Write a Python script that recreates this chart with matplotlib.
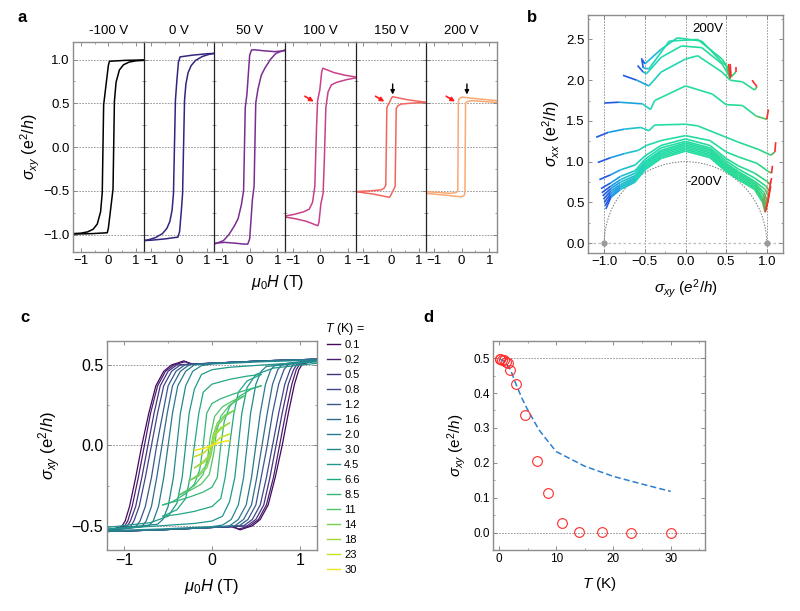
import numpy as np
import matplotlib
matplotlib.use("Agg")
import matplotlib.pyplot as plt
from matplotlib.collections import LineCollection
from matplotlib.colors import LinearSegmentedColormap
from matplotlib.lines import Line2D
from matplotlib.patches import Arc
from matplotlib.ticker import MultipleLocator

plt.rcParams["font.family"] = ["Liberation Sans", "DejaVu Sans"]
plt.rcParams["mathtext.fontset"] = "custom"
plt.rcParams["mathtext.rm"] = "Liberation Sans"
plt.rcParams["mathtext.it"] = "Liberation Sans:italic"
plt.rcParams["mathtext.bf"] = "Liberation Sans:bold"

# ---- panel a: gate-dependent loops (up-sweep branch; down-sweep is the mirror) ----
GATE_LABELS = ["-100 V", "0 V", "50 V", "100 V", "150 V", "200 V"]
GATE_H_UP = [
    [-1.28, -0.6, -0.04, 0.0, 0.08, 0.17, 0.22, 0.28, 0.40, 0.55, 0.75, 1.0, 1.28],
    [-1.28, -1.0, -0.5, -0.04, 0.02, 0.08, 0.13, 0.20, 0.25, 0.33, 0.44, 0.6, 0.85, 1.1, 1.28],
    [-1.28, -0.9, -0.5, -0.2, -0.07, 0.0, 0.10, 0.16, 0.22, 0.30, 0.42, 0.55, 0.75, 0.95, 1.28],
    [-1.28, -0.9, -0.5, -0.09, -0.05, 0.02, 0.10, 0.14, 0.20, 0.28, 0.40, 0.60, 0.95, 1.28],
    [-1.28, -0.6, -0.06, -0.02, 0.15, 0.17, 0.19, 0.25, 0.35, 0.70, 1.28],
    [-1.28, -0.6, -0.01, 0.10, 0.12, 0.13, 0.14, 0.20, 0.40, 0.80, 1.28],
]
GATE_S_UP = [
    [-0.995, -0.99, -0.98, -0.93, -0.72, -0.48, 0.52, 0.74, 0.88, 0.94, 0.97, 0.985, 0.99],
    [-1.07, -1.065, -1.05, -1.03, -0.97, -0.75, -0.53, 0.53, 0.72, 0.85, 0.93, 0.99, 1.035, 1.06, 1.07],
    [-1.10, -1.09, -1.10, -1.11, -1.11, -1.05, -0.60, -0.45, 0.50, 0.66, 0.82, 0.90, 1.00, 1.07, 1.11],
    [-0.80, -0.82, -0.85, -0.90, -0.86, -0.65, -0.53, -0.20, 0.45, 0.63, 0.71, 0.74, 0.77, 0.79],
    [-0.51, -0.54, -0.575, -0.56, -0.45, 0.0, 0.44, 0.47, 0.49, 0.50, 0.51],
    [-0.53, -0.55, -0.57, -0.55, -0.50, 0.0, 0.50, 0.52, 0.53, 0.52, 0.51],
]
GATE_COLORS = ["#000000", "#35237d", "#7a2e92", "#c8408a", "#f2655f", "#f9a972"]

# ---- panel b: sigma_xx vs sigma_xy, one trace per gate voltage ----
B_X = [
    [-0.98, -0.92, -0.80, -0.62, -0.50, -0.30, 0.00, 0.30, 0.50, 0.65, 0.85, 0.95, 0.98, 1.00],
    [-0.99, -0.92, -0.80, -0.62, -0.50, -0.30, 0.00, 0.30, 0.50, 0.65, 0.85, 0.95, 0.985, 1.01],
    [-1.00, -0.92, -0.80, -0.62, -0.50, -0.30, 0.00, 0.30, 0.50, 0.65, 0.85, 0.95, 0.99, 1.02],
    [-1.01, -0.92, -0.80, -0.62, -0.50, -0.30, 0.00, 0.30, 0.50, 0.65, 0.85, 0.96, 1.00, 1.03],
    [-1.02, -0.92, -0.80, -0.62, -0.50, -0.30, 0.00, 0.30, 0.50, 0.65, 0.85, 0.97, 1.01, 1.04],
    [-1.03, -0.92, -0.80, -0.62, -0.50, -0.30, 0.00, 0.30, 0.50, 0.65, 0.85, 0.98, 1.02, 1.05],
    [-1.04, -0.92, -0.80, -0.62, -0.50, -0.30, 0.00, 0.30, 0.50, 0.65, 0.85, 0.99, 1.03, 1.05],
    [-1.06, -0.92, -0.80, -0.62, -0.50, -0.30, 0.00, 0.30, 0.50, 0.65, 0.85, 1.00, 1.04, 1.06],
    [-1.08, -0.92, -0.75, -0.58, -0.48, -0.30, 0.00, 0.30, 0.50, 0.65, 0.88, 1.02, 1.06, 1.07],
    [-1.10, -0.95, -0.75, -0.55, -0.45, -0.38, 0.00, 0.15, 0.50, 0.65, 0.90, 1.05, 1.10, 1.11],
    [-1.00, -0.82, -0.53, -0.43, -0.38, 0.00, 0.33, 0.50, 0.70, 0.87, 1.00, 1.02],
    [-0.77, -0.60, -0.45, -0.30, 0.00, 0.15, 0.45, 0.55, 0.70, 0.85, 0.88, 0.82],
    [-0.59, -0.52, -0.48, -0.30, -0.05, 0.20, 0.45, 0.55, 0.62, 0.62],
    [-0.54, -0.52, -0.45, -0.20, 0.15, 0.45, 0.53, 0.56, 0.55],
    [-0.53, -0.50, -0.30, -0.10, 0.20, 0.45, 0.50, 0.55, 0.53],
]
B_Y = [
    [0.42, 0.56, 0.66, 0.75, 0.90, 1.04, 1.13, 1.05, 0.88, 0.78, 0.66, 0.50, 0.38, 0.46],
    [0.46, 0.58, 0.68, 0.77, 0.92, 1.06, 1.15, 1.07, 0.90, 0.80, 0.68, 0.53, 0.40, 0.50],
    [0.50, 0.61, 0.70, 0.79, 0.94, 1.08, 1.17, 1.09, 0.92, 0.82, 0.70, 0.56, 0.42, 0.55],
    [0.54, 0.64, 0.72, 0.81, 0.96, 1.10, 1.19, 1.11, 0.94, 0.84, 0.72, 0.59, 0.45, 0.60],
    [0.58, 0.67, 0.75, 0.83, 0.98, 1.12, 1.21, 1.13, 0.96, 0.86, 0.74, 0.62, 0.50, 0.65],
    [0.62, 0.70, 0.78, 0.86, 1.00, 1.14, 1.23, 1.15, 0.98, 0.88, 0.76, 0.66, 0.58, 0.70],
    [0.67, 0.74, 0.82, 0.89, 1.03, 1.17, 1.25, 1.17, 1.01, 0.91, 0.80, 0.70, 0.64, 0.76],
    [0.78, 0.84, 0.90, 0.96, 1.07, 1.20, 1.28, 1.20, 1.04, 0.95, 0.86, 0.76, 0.72, 0.80],
    [0.99, 1.05, 1.10, 1.14, 1.20, 1.26, 1.32, 1.26, 1.12, 1.06, 0.98, 0.88, 0.86, 0.95],
    [1.30, 1.36, 1.40, 1.42, 1.38, 1.45, 1.46, 1.44, 1.30, 1.24, 1.15, 1.08, 1.12, 1.24],
    [1.72, 1.73, 1.71, 1.64, 1.75, 1.93, 1.83, 1.70, 1.69, 1.56, 1.52, 1.64],
    [2.06, 2.00, 1.93, 2.10, 2.26, 2.30, 2.10, 2.00, 1.98, 1.88, 1.92, 2.00],
    [2.18, 2.10, 2.08, 2.28, 2.42, 2.40, 2.20, 2.03, 2.10, 2.16],
    [2.27, 2.15, 2.14, 2.48, 2.50, 2.26, 2.14, 2.05, 2.20],
    [2.25, 2.20, 2.38, 2.52, 2.48, 2.22, 2.18, 2.02, 2.20],
]

# ---- panel c: temperature-dependent loops (up-sweep branch) ----
T_LABELS = ["0.1", "0.2", "0.5", "0.8", "1.2", "1.6", "2.0", "3.0",
            "4.5", "6.6", "8.5", "11", "14", "18", "23", "30"]
C_H_UP = [
    [-1.2, -0.6, 0.0, 0.25, 0.32, 0.40, 0.46, 0.55, 0.64, 0.72, 0.80, 0.87, 0.94, 0.99, 1.03, 1.2],
    [-1.2, -0.6, 0.0, 0.22, 0.30, 0.37, 0.43, 0.53, 0.62, 0.70, 0.77, 0.84, 0.91, 0.96, 1.00, 1.2],
    [-1.2, -0.6, 0.0, 0.40, 0.50, 0.59, 0.66, 0.73, 0.80, 0.87, 0.93, 0.97, 1.2],
    [-1.2, -0.6, 0.0, 0.36, 0.46, 0.55, 0.62, 0.69, 0.76, 0.83, 0.89, 0.93, 1.2],
    [-1.2, -0.6, 0.0, 0.31, 0.41, 0.50, 0.56, 0.63, 0.69, 0.76, 0.82, 0.87, 1.2],
    [-1.2, -0.6, 0.0, 0.26, 0.36, 0.45, 0.51, 0.57, 0.63, 0.69, 0.75, 0.80, 1.2],
    [-1.2, -0.6, 0.0, 0.20, 0.30, 0.39, 0.45, 0.50, 0.55, 0.61, 0.67, 0.72, 1.2],
    [-1.2, -0.6, 0.0, 0.12, 0.22, 0.30, 0.36, 0.40, 0.44, 0.50, 0.56, 0.62, 1.2],
    [-1.2, -0.6, -0.2, 0.0, 0.12, 0.20, 0.26, 0.30, 0.34, 0.40, 0.50, 0.70, 1.2],
    [-0.56, -0.4, -0.2, 0.0, 0.10, 0.15, 0.20, 0.25, 0.30, 0.40, 0.56],
    [-0.56, -0.4, -0.25, -0.1, 0.0, 0.06, 0.10, 0.14, 0.20, 0.30, 0.45, 0.56],
    [-0.38, -0.25, -0.12, -0.03, 0.02, 0.05, 0.10, 0.20, 0.38],
    [-0.26, -0.15, -0.06, -0.01, 0.02, 0.06, 0.15, 0.26],
    [-0.2, -0.1, -0.03, 0.0, 0.03, 0.10, 0.2],
    [-0.2, -0.1, 0.0, 0.1, 0.2],
    [-0.2, -0.1, 0.0, 0.1, 0.2],
]
C_S_UP = [
    [-0.535, -0.525, -0.51, -0.505, -0.525, -0.51, -0.50, -0.46, -0.37, -0.20, 0.0, 0.20, 0.38, 0.47, 0.505, 0.53],
    [-0.535, -0.525, -0.51, -0.505, -0.52, -0.51, -0.50, -0.46, -0.37, -0.20, 0.0, 0.20, 0.38, 0.47, 0.505, 0.53],
    [-0.535, -0.525, -0.51, -0.50, -0.46, -0.37, -0.20, 0.0, 0.20, 0.38, 0.47, 0.505, 0.53],
    [-0.535, -0.525, -0.51, -0.50, -0.46, -0.37, -0.20, 0.0, 0.20, 0.38, 0.47, 0.505, 0.53],
    [-0.535, -0.525, -0.51, -0.50, -0.46, -0.37, -0.20, 0.0, 0.20, 0.38, 0.47, 0.505, 0.53],
    [-0.535, -0.525, -0.51, -0.50, -0.46, -0.37, -0.20, 0.0, 0.20, 0.38, 0.47, 0.505, 0.53],
    [-0.535, -0.525, -0.51, -0.50, -0.46, -0.37, -0.20, 0.0, 0.20, 0.38, 0.47, 0.50, 0.53],
    [-0.53, -0.52, -0.505, -0.495, -0.46, -0.37, -0.20, 0.0, 0.20, 0.38, 0.46, 0.49, 0.52],
    [-0.52, -0.50, -0.485, -0.47, -0.44, -0.35, -0.20, 0.0, 0.20, 0.36, 0.44, 0.48, 0.51],
    [-0.44, -0.43, -0.41, -0.38, -0.33, -0.20, 0.0, 0.20, 0.33, 0.40, 0.44],
    [-0.37, -0.345, -0.32, -0.29, -0.26, -0.20, 0.0, 0.15, 0.24, 0.30, 0.35, 0.37],
    [-0.31, -0.28, -0.24, -0.18, -0.05, 0.08, 0.18, 0.25, 0.31],
    [-0.22, -0.19, -0.14, -0.06, 0.04, 0.12, 0.18, 0.22],
    [-0.14, -0.11, -0.07, -0.01, 0.06, 0.10, 0.14],
    [-0.07, -0.05, 0.0, 0.05, 0.07],
    [-0.03, -0.02, 0.0, 0.02, 0.03],
]

# ---- panel d: sigma_xy at zero field vs temperature ----
T_VALUES = [0.1, 0.2, 0.5, 0.8, 1.2, 1.6, 2.0, 3.0, 4.5, 6.6, 8.5, 11, 14, 18, 23, 30]
SIGMA_T = [0.497, 0.497, 0.496, 0.494, 0.49, 0.485, 0.467, 0.425, 0.337, 0.205,
           0.112, 0.026, 0.002, 0.001, 0.0, 0.0]
FIT_T = [0.1, 1, 2, 3, 4, 5, 7, 8, 10, 15, 20, 25, 30]
FIT_SIGMA = [0.498, 0.49, 0.467, 0.424, 0.385, 0.352, 0.294, 0.273, 0.232, 0.19, 0.161, 0.139, 0.118]

W, H = 800, 611
GRID_STYLE = dict(color="#8c8c8c", linewidth=0.6, linestyle=(0, (2, 1.5)))


def px_axes(fig, left, top, right, bottom):
    return fig.add_axes([left / W, 1 - bottom / H, (right - left) / W, (bottom - top) / H])


def style_axes(ax, labelsize):
    ax.tick_params(which="both", direction="in", top=True, right=True,
                   color="#7a7a7a", labelsize=labelsize, pad=2.5)
    ax.tick_params(which="major", length=3, width=0.6)
    ax.tick_params(which="minor", length=1.6, width=0.5)
    for spine in ax.spines.values():
        spine.set_color("#8c8c8c")
        spine.set_linewidth(1.0)


fig = plt.figure(figsize=(8, 6.11), dpi=100)

# panel a
panel_w = (497 - 73) / 6
a_axes = []
for i, label in enumerate(GATE_LABELS):
    left = 73 + panel_w * i
    ax = px_axes(fig, left, 42, left + panel_w, 252)
    style_axes(ax, 9.5)
    h = np.array(GATE_H_UP[i])
    s = np.array(GATE_S_UP[i])
    ax.plot(h, s, color=GATE_COLORS[i], lw=1.1)
    ax.plot(-h[::-1], -s[::-1], color=GATE_COLORS[i], lw=1.1)
    ax.set_xlim(-1.28, 1.28)
    ax.set_ylim(-1.2, 1.2)
    ax.set_xticks([-1, 0, 1])
    ax.xaxis.set_minor_locator(MultipleLocator(0.5))
    ax.set_yticks([-1, -0.5, 0, 0.5, 1])
    ax.yaxis.set_minor_locator(MultipleLocator(0.25))
    for yv in [-1, -0.5, 0, 0.5, 1]:
        ax.axhline(yv, zorder=0, **GRID_STYLE)
    ax.set_title(label, fontsize=9.5, pad=6)
    if i > 0:
        ax.tick_params(labelleft=False)
        ax.spines["left"].set_color("#222222")
        ax.spines["left"].set_linewidth(0.9)
    if i < 5:
        ax.spines["right"].set_visible(False)
    a_axes.append(ax)

a_axes[0].set_ylabel(r"$\sigma_{xy}$ (e$^2$/$h$)", fontsize=11.5, labelpad=1)
fig.text(278 / W, 1 - 282 / H, r"$\mu_0H$ (T)", ha="center", va="center", fontsize=11.5)

# arrows marking the plateau kinks
for ax in a_axes[3:]:
    ax.annotate("", xy=(-0.24, 0.52), xytext=(-0.56, 0.58),
                arrowprops=dict(arrowstyle="-|>", color="#ff1a1a", lw=1.2,
                                mutation_scale=6, shrinkA=0, shrinkB=0))
for ax, xv in zip(a_axes[4:], [0.06, 0.19]):
    ax.annotate("", xy=(xv, 0.60), xytext=(xv, 0.72),
                arrowprops=dict(arrowstyle="-|>", color="black", lw=1.0,
                                mutation_scale=6, shrinkA=0, shrinkB=0))

# panel b
axb = px_axes(fig, 588, 15, 783, 253)
style_axes(axb, 9.5)
for xv in [-1, -0.5, 0, 0.5, 1]:
    axb.axvline(xv, zorder=0, **GRID_STYLE)
axb.axhline(0, color="#bdbdbd", lw=0.9, ls=(0, (2, 2)), zorder=0)
axb.add_patch(Arc((0, 0), 2, 2, theta1=0, theta2=180, color="#777777",
                  lw=0.7, ls=(0, (1.5, 1.5))))
axb.plot([-1, 1], [0, 0], "o", color="#9a9a9a", ms=3.5, zorder=3)
b_cmap = LinearSegmentedColormap.from_list(
    "sweep", [(0.0, "#1f5ae0"), (0.08, "#1a9ce4"), (0.2, "#1fcfc2"), (0.35, "#22dca8"),
              (0.82, "#28d98e"), (0.9, "#48c660"), (1.0, "#f5302a")])
for xs, ys in zip(B_X, B_Y):
    pts = np.column_stack([xs, ys])
    segs = np.stack([pts[:-1], pts[1:]], axis=1)
    lc = LineCollection(segs, colors=b_cmap(np.linspace(0, 1, len(segs))), linewidths=1.2)
    axb.add_collection(lc)
axb.text(0.27, 2.63, "200V", ha="center", va="center", fontsize=9.5)
axb.text(0.23, 0.75, "-200V", ha="center", va="center", fontsize=9.5)
axb.set_xlim(-1.2, 1.2)
axb.set_ylim(-0.12, 2.8)
axb.set_xticks([-1, -0.5, 0, 0.5, 1])
axb.set_yticks([0, 0.5, 1, 1.5, 2, 2.5])
axb.xaxis.set_minor_locator(MultipleLocator(0.25))
axb.yaxis.set_minor_locator(MultipleLocator(0.25))
axb.set_xlabel(r"$\sigma_{xy}$ ($e^2$/$h$)", fontsize=11, labelpad=6)
axb.set_ylabel(r"$\sigma_{xx}$ (e$^2$/$h$)", fontsize=11.5, labelpad=3)

# panel c
axc = px_axes(fig, 106.7, 340.7, 317.3, 550)
style_axes(axc, 11.5)
for yv in [-0.5, 0, 0.5]:
    axc.axhline(yv, zorder=0, **GRID_STYLE)
c_colors = plt.cm.viridis(np.linspace(0.02, 0.98, len(T_LABELS)))
handles = []
for hs, ss, col, lab in zip(C_H_UP, C_S_UP, c_colors, T_LABELS):
    h = np.array(hs)
    s = np.array(ss)
    axc.plot(h, s, color=col, lw=0.9)
    axc.plot(-h[::-1], -s[::-1], color=col, lw=0.9)
    handles.append(Line2D([], [], color=col, lw=1.0, label=lab))
axc.set_xlim(-1.2, 1.2)
axc.set_ylim(-0.65, 0.65)
axc.set_xticks([-1, 0, 1])
axc.xaxis.set_minor_locator(MultipleLocator(0.5))
axc.set_yticks([-0.5, 0, 0.5])
axc.yaxis.set_minor_locator(MultipleLocator(0.25))
axc.set_xlabel(r"$\mu_0H$ (T)", fontsize=12, labelpad=6)
axc.set_ylabel(r"$\sigma_{xy}$ (e$^2$/$h$)", fontsize=12, labelpad=6)
axc.legend(handles=handles, loc="upper left", bbox_to_anchor=(1.046, 1.003),
           frameon=False, fontsize=8, handlelength=1.2, handletextpad=0.35,
           labelspacing=0.45, borderpad=0, borderaxespad=0)
fig.text(325 / W, 1 - 329 / H, r"$T$ (K) =", fontsize=9, ha="left", va="center")

# panel d
axd = px_axes(fig, 493.3, 340.7, 705, 550)
style_axes(axd, 8.5)
for yv in [0, 0.5]:
    axd.axhline(yv, zorder=0, **GRID_STYLE)
axd.plot(FIT_T, FIT_SIGMA, color="#2d7fd0", lw=1.1, ls=(0, (4, 2)))
axd.plot(T_VALUES, SIGMA_T, "o", mfc="none", mec="#ff2a2a", ms=7, mew=0.8)
axd.set_xlim(-1, 36)
axd.set_ylim(-0.05, 0.55)
axd.set_xticks([0, 10, 20, 30])
axd.xaxis.set_minor_locator(MultipleLocator(5))
axd.set_yticks([0, 0.1, 0.2, 0.3, 0.4, 0.5])
axd.yaxis.set_minor_locator(MultipleLocator(0.05))
axd.set_xlabel(r"$T$ (K)", fontsize=11, labelpad=7)
axd.set_ylabel(r"$\sigma_{xy}$ (e$^2$/$h$)", fontsize=11, labelpad=4)

# panel letters
for letter, x, y in [("a", 18, 18), ("b", 527, 18), ("c", 20, 318), ("d", 423, 318)]:
    fig.text(x / W, 1 - y / H, letter, fontsize=12, fontweight="bold", ha="left", va="center")

fig.savefig("out.png", dpi=100)
